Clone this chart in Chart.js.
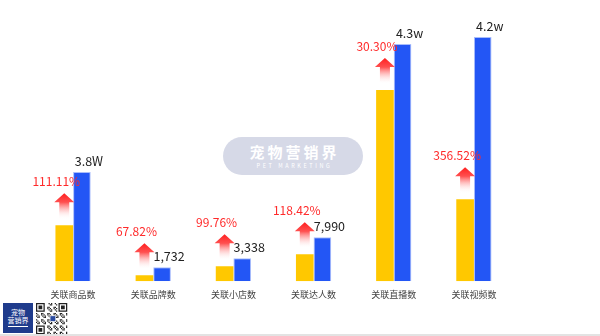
<!DOCTYPE html>
<html>
<head>
<meta charset="utf-8">
<script src="https://cdn.jsdelivr.net/npm/chart.js@4/dist/chart.umd.min.js"></script>
<style>
html, body { margin: 0; padding: 0; background: #fff; }
#wrap { position: relative; width: 600px; height: 336px; overflow: hidden; font-family: "Noto Sans CJK SC", "Noto Sans", sans-serif; }
#chart { position: absolute; left: 0; top: 0; }
.mark { position: absolute; left: 223px; top: 137px; width: 140px; height: 38px; border-radius: 19px; background: #d6d9e7; color: #fff; text-align: center; }
.mark .cn { font-size: 15px; font-weight: bold; letter-spacing: 3px; line-height: 15px; padding-top: 7px; padding-left: 3px; }
.mark .en { font-size: 5.5px; letter-spacing: 2.6px; line-height: 6px; margin-top: 4px; padding-left: 3px; }
.logo { position: absolute; left: 3px; top: 303px; width: 30px; height: 30px; background: #1f3b8c; color: #fff; font-size: 7px; line-height: 8px; text-align: center; }
.logo .l1 { padding-top: 5px; }
.logo .bar { width: 20px; height: 1px; background: #fff; margin: 2px auto 0; }
#qr { position: absolute; left: 36px; top: 303px; }
.line { position: absolute; left: 0; top: 334px; width: 600px; height: 2px; background: #e3e3e3; }
</style>
</head>
<body>
<div id="wrap">
    <div class="mark"><div class="cn">宠物营销界</div><div class="en">PET MARKETING</div></div>
    <canvas id="chart" width="600" height="336"></canvas>
    <div class="logo"><div class="l1">宠物</div><div>营销界</div><div class="bar"></div></div>
    <canvas id="qr" width="32" height="31"></canvas>
    <div class="line"></div>
</div>
<script>
var categories = ['关联商品数', '关联品牌数', '关联小店数', '关联达人数', '关联直播数', '关联视频数'];
// bar heights as drawn in the picture (the picture uses no common scale)
var prevHeights = [56, 6, 15, 27, 191, 82];
var currHeights = [109, 14, 23, 44, 237, 244];
var currLabels = ['3.8W', '1,732', '3,338', '7,990', '4.3w', '4.2w'];
var growthLabels = ['111.11%', '67.82%', '99.76%', '118.42%', '30.30%', '356.52%'];

var fontFamily = '"Noto Sans CJK SC", "Noto Sans", sans-serif';

var labelsPlugin = {
    id: 'barLabels',
    afterDatasetsDraw: function(chart) {
        var ctx = chart.ctx;
        var prevMeta = chart.getDatasetMeta(0);
        var currMeta = chart.getDatasetMeta(1);
        ctx.save();
        for (var i = 0; i < categories.length; i++) {
            var yellow = prevMeta.data[i];
            var blue = currMeta.data[i];

            // value above the blue bar
            ctx.fillStyle = '#222';
            ctx.font = '12.5px ' + fontFamily;
            ctx.textAlign = 'center';
            ctx.textBaseline = 'middle';
            ctx.fillText(currLabels[i], blue.x + 7, blue.y - 11);

            // red arrow above the yellow bar
            var cx = yellow.x;
            var top = yellow.y - 32;
            var grad = ctx.createLinearGradient(0, top, 0, top + 26);
            grad.addColorStop(0, '#ff1f1f');
            grad.addColorStop(0.35, '#ff5050');
            grad.addColorStop(1, 'rgba(255,255,255,0)');
            ctx.fillStyle = grad;
            ctx.beginPath();
            ctx.moveTo(cx, top);
            ctx.lineTo(cx + 10, top + 9);
            ctx.lineTo(cx + 5, top + 9);
            ctx.lineTo(cx + 5, top + 26);
            ctx.lineTo(cx - 5, top + 26);
            ctx.lineTo(cx - 5, top + 9);
            ctx.lineTo(cx - 10, top + 9);
            ctx.closePath();
            ctx.fill();

            ctx.fillStyle = '#ff2a2a';
            ctx.font = '12px ' + fontFamily;
            ctx.fillText(growthLabels[i], cx - 8, top - 12);
        }
        ctx.restore();
    }
};

new Chart(document.getElementById('chart'), {
    type: 'bar',
    plugins: [labelsPlugin],
    data: {
        labels: categories,
        datasets: [{
            data: prevHeights,
            backgroundColor: '#ffc800',
            borderWidth: 0
        }, {
            data: currHeights,
            backgroundColor: '#2356f5',
            borderColor: '#a9bdfb',
            borderWidth: 1
        }]
    },
    options: {
        responsive: false,
        animation: false,
        categoryPercentage: 0.44,
        barPercentage: 1,
        layout: {
            padding: { left: 33, right: 86, top: 31, bottom: 36 }
        },
        plugins: {
            legend: { display: false },
            tooltip: { enabled: false }
        },
        scales: {
            x: {
                grid: { display: false },
                border: { display: false },
                ticks: {
                    color: '#444',
                    padding: 0,
                    font: { size: 9, family: fontFamily }
                }
            },
            y: {
                display: false,
                min: 0,
                max: 250
            }
        }
    }
});

// small QR-like mark next to the logo
(function() {
    var c = document.getElementById('qr').getContext('2d');
    var n = 25, s = 1.25;
    c.fillStyle = '#fff';
    c.fillRect(0, 0, 32, 31);
    c.fillStyle = '#222';
    function finder(x, y) {
        c.fillRect(x * s, y * s, 7 * s, 7 * s);
        c.fillStyle = '#fff';
        c.fillRect((x + 1) * s, (y + 1) * s, 5 * s, 5 * s);
        c.fillStyle = '#222';
        c.fillRect((x + 2) * s, (y + 2) * s, 3 * s, 3 * s);
    }
    for (var r = 0; r < n; r++) {
        for (var q = 0; q < n; q++) {
            var inFinder = (r < 8 && q < 8) || (r < 8 && q > 16) || (r > 16 && q < 8);
            if (inFinder) continue;
            if (((r * 7 + q * 13 + r * q) % 5) < 2) {
                c.fillRect(q * s, r * s, s, s);
            }
        }
    }
    finder(0, 0);
    finder(18, 0);
    finder(0, 18);
    c.fillStyle = '#fff';
    c.fillRect(11 * s, 10 * s, 5 * s, 5 * s);
    c.fillStyle = '#2a4aa0';
    c.fillRect(11.5 * s, 10.5 * s, 4 * s, 4 * s);
})();
</script>
</body>
</html>
